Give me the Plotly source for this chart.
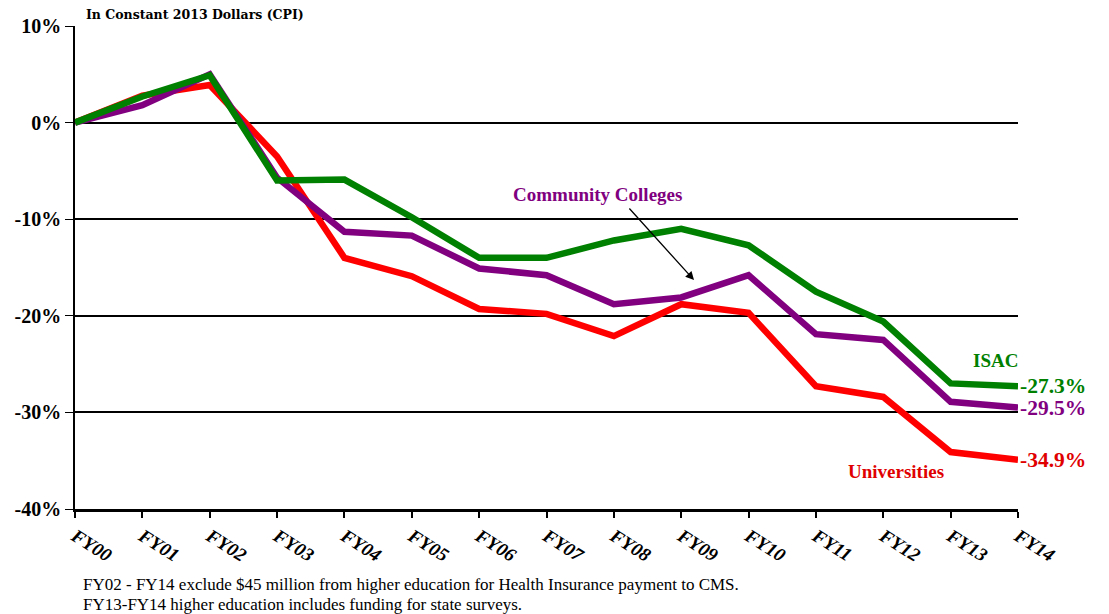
import plotly.graph_objects as go

years = ["FY00", "FY01", "FY02", "FY03", "FY04", "FY05", "FY06", "FY07",
         "FY08", "FY09", "FY10", "FY11", "FY12", "FY13", "FY14"]
universities = [0.0, 2.8, 3.9, -3.5, -14.0, -15.9, -19.3, -19.8, -22.1, -18.8, -19.7, -27.3, -28.4, -34.1, -34.9]
community_colleges = [0.0, 1.8, 5.0, -5.7, -11.3, -11.7, -15.1, -15.8, -18.8, -18.1, -15.8, -21.9, -22.5, -28.9, -29.5]
isac = [0.0, 2.7, 4.9, -6.0, -5.9, -9.8, -14.0, -14.0, -12.2, -11.0, -12.7, -17.5, -20.6, -27.0, -27.3]
y_ticks = [10, 0, -10, -20, -30, -40]
y_tick_labels = ["10%", "0%", "-10%", "-20%", "-30%", "-40%"]
footnotes = ["FY02 - FY14 exclude $45 million from higher education for Health Insurance payment to CMS.",
             "FY13-FY14 higher education includes funding for state surveys."]

RED = "#FF0000"
RED_TEXT = "#E00000"
PURPLE = "#800080"
GREEN = "#008000"
SERIF = "Liberation Serif"

fig = go.Figure()
fig.add_trace(go.Scatter(x=years, y=universities, mode="lines", name="Universities",
                         line=dict(color=RED, width=6.5)))
fig.add_trace(go.Scatter(x=years, y=community_colleges, mode="lines", name="Community Colleges",
                         line=dict(color=PURPLE, width=6.5)))
fig.add_trace(go.Scatter(x=years, y=isac, mode="lines", name="ISAC",
                         line=dict(color=GREEN, width=6.5)))

# end labels
for vals, col in [(isac, GREEN), (community_colleges, PURPLE), (universities, RED_TEXT)]:
    fig.add_annotation(x=years[-1], y=vals[-1], text=f"{vals[-1]:.1f}%", showarrow=False,
                       xanchor="left", yanchor="middle", xshift=0,
                       font=dict(family=SERIF, size=21.5, color=col, weight="bold"))

fig.add_annotation(x=13.66, y=-24.6, text="ISAC", showarrow=False,
                   xanchor="center", yanchor="middle",
                   font=dict(family=SERIF, size=19, color=GREEN, weight="bold"))
fig.add_annotation(x=12.19, y=-36.1, text="Universities", showarrow=False,
                   xanchor="center", yanchor="middle",
                   font=dict(family=SERIF, size=19, color=RED_TEXT, weight="bold"))
fig.add_annotation(x=7.76, y=-7.4, text="Community Colleges", showarrow=False,
                   xanchor="center", yanchor="middle",
                   font=dict(family=SERIF, size=19, color=PURPLE, weight="bold"))
# arrow pointing at the Community Colleges line
fig.add_annotation(x=9.19, y=-16.3, ax=-66, ay=-73, text="", showarrow=True,
                   arrowhead=2, arrowsize=1.3, arrowwidth=1.3, arrowcolor="black", standoff=0)

fig.add_annotation(xref="paper", yref="paper", x=0.01, y=1.0, yshift=2,
                   text="In Constant 2013 Dollars (CPI)", showarrow=False,
                   xanchor="left", yanchor="bottom",
                   font=dict(family="DejaVu Serif", size=12.5, color="black", weight="bold"))
for i, line in enumerate(footnotes):
    fig.add_annotation(xref="paper", yref="paper", x=0.0065, y=-0.157 - i * 0.0415,
                       yanchor="middle", xanchor="left", text=line, showarrow=False,
                       font=dict(family=SERIF, size=17, color="black"))

fig.update_layout(
    width=1101, height=606,
    margin=dict(l=67, r=91, t=18, b=105),
    plot_bgcolor="white", paper_bgcolor="white",
    showlegend=False,
    xaxis=dict(type="category", range=[0, 14], showgrid=False, showline=True,
               linecolor="black", linewidth=3, ticks="outside", ticklen=6, tickwidth=2,
               tickcolor="black", tickangle=32, automargin=False,
               tickfont=dict(family=SERIF, size=19, color="black", weight="bold", style="italic")),
    yaxis=dict(range=[-40, 10], tickvals=y_ticks, ticktext=y_tick_labels,
               showgrid=True, gridcolor="black", gridwidth=2, zeroline=False,
               showline=True, linecolor="black", linewidth=1.5, ticks="outside", ticklen=8,
               tickcolor="black", automargin=False,
               tickfont=dict(family=SERIF, size=20, color="black", weight="bold")),
)

fig.write_html("out.html")
